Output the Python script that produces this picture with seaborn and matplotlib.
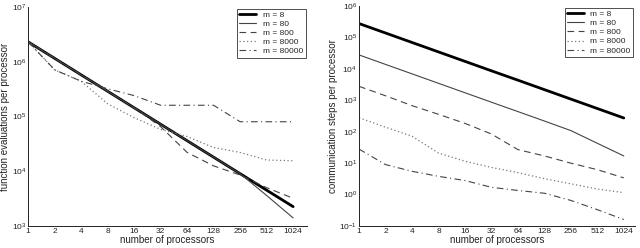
import numpy as np
import pandas as pd
import matplotlib
matplotlib.use('Agg')
import matplotlib.pyplot as plt
import matplotlib.ticker as mticker
import seaborn as sns

sns.set_theme(style='white')
plt.rcParams['font.family'] = ['Liberation Sans', 'DejaVu Sans']
plt.rcParams['mathtext.default'] = 'regular'
plt.rcParams['xtick.direction'] = 'in'
plt.rcParams['ytick.direction'] = 'in'

# ── data
procs = [1, 2, 4, 8, 16, 32, 64, 128, 256, 512, 1024]
labels = ['m = 8', 'm = 80', 'm = 800', 'm = 8000', 'm = 80000']

# function evaluations per processor
fe_m8     = [2.3e6, 1.15e6, 5.75e5, 2.88e5, 1.44e5, 7.2e4, 3.6e4, 1.8e4, 9.0e3, 4.5e3, 2.25e3]
fe_m80    = [2.3e6, 1.15e6, 5.75e5, 2.88e5, 1.44e5, 7.2e4, 3.6e4, 1.8e4, 9.0e3, 3.6e3, 1.4e3]
fe_m800   = [2.3e6, 1.15e6, 5.75e5, 2.88e5, 1.44e5, 6.5e4, 2.2e4, 1.25e4, 8.5e3, 5.0e3, 3.2e3]
fe_m8000  = [2.3e6, 7.1e5, 4.4e5, 1.7e5, 9.5e4, 5.8e4, 4.3e4, 2.7e4, 2.2e4, 1.6e4, 1.55e4]
fe_m80000 = [2.3e6, 7.1e5, 4.4e5, 3.2e5, 2.4e5, 1.6e5, 1.6e5, 1.6e5, 8.0e4, 8.0e4, 8.0e4]

# communication steps per processor
cs_m8     = [2.8e5, 1.4e5, 7.0e4, 3.5e4, 1.75e4, 8.75e3, 4.4e3, 2.2e3, 1.1e3, 550, 275]
cs_m80    = [2.8e4, 1.4e4, 7.0e3, 3.5e3, 1.75e3, 875, 440, 220, 109, 43, 17]
cs_m800   = [2.8e3, 1.4e3, 680, 360, 185, 85, 27, 17, 10, 6.2, 3.4]
cs_m8000  = [280, 140, 72, 21, 11.5, 7.3, 5.0, 3.2, 2.2, 1.5, 1.15]
cs_m80000 = [28, 9.0, 5.5, 3.8, 2.8, 1.7, 1.35, 1.1, 0.65, 0.33, 0.16]

STYLES = [
    dict(color='black', lw=2.0, ls='-'),
    dict(color='#444444', lw=0.8, ls='-'),
    dict(color='#444444', lw=0.8, ls=(0, (6, 4))),
    dict(color='#777777', lw=0.9, ls=(0, (1, 2))),
    dict(color='#444444', lw=0.8, ls=(0, (6, 3, 1, 3))),
]

fig = plt.figure(figsize=(6.4, 2.48), dpi=100)
ax1 = fig.add_axes([0.044, 0.089, 0.436, 0.883])
ax2 = fig.add_axes([0.561, 0.089, 0.431, 0.886])

panels = [
    (ax1, [fe_m8, fe_m80, fe_m800, fe_m8000, fe_m80000], (1e3, 1e7), 1480,
     'function evaluations per processor', -0.082),
    (ax2, [cs_m8, cs_m80, cs_m800, cs_m8000, cs_m80000], (1e-1, 1e6), 1370,
     'communication steps per processor', -0.095),
]

for ax, series, ylim, xmax, ylab, ylab_x in panels:
    for vals, lab, st in zip(series, labels, STYLES):
        sns.lineplot(x=procs, y=vals, ax=ax, label=lab, color=st['color'],
                     lw=st['lw'], linestyle=st['ls'])
    ax.set_xscale('log')
    ax.set_yscale('log')
    ax.set_xlim(1, xmax)
    ax.set_ylim(*ylim)
    ax.xaxis.set_major_locator(mticker.FixedLocator(procs))
    ax.xaxis.set_major_formatter(mticker.FixedFormatter([str(p) for p in procs]))
    ax.xaxis.set_minor_locator(mticker.LogLocator(base=10, subs=np.arange(1, 10), numticks=50))
    ax.xaxis.set_minor_formatter(mticker.NullFormatter())
    ax.yaxis.set_major_locator(mticker.LogLocator(base=10, numticks=20))
    ax.yaxis.set_major_formatter(mticker.LogFormatterMathtext())
    ax.yaxis.set_minor_locator(mticker.LogLocator(base=10, subs=np.arange(2, 10), numticks=50))
    ax.yaxis.set_minor_formatter(mticker.NullFormatter())
    ax.tick_params(which='major', length=3, width=0.6, labelsize=6, pad=1.5, colors='#222222')
    ax.tick_params(which='minor', length=1.5, width=0.5)
    for side in ['top', 'right']:
        ax.spines[side].set_visible(False)
    for side in ['left', 'bottom']:
        ax.spines[side].set_linewidth(0.7)
        ax.spines[side].set_color('#222222')
    ax.set_xlabel('number of processors', fontsize=7, color='#222222', va='center')
    ax.xaxis.set_label_coords(0.5, -0.062)
    ax.set_ylabel(ylab, fontsize=7, color='#222222', va='center')
    ax.yaxis.set_label_coords(ylab_x, 0.5)
    leg = ax.legend(loc='upper right', fontsize=6, frameon=True, fancybox=False,
                    handlelength=2.0, handletextpad=0.8, labelspacing=0.15,
                    borderpad=0.3, borderaxespad=0.2)
    leg.get_frame().set_edgecolor('#222222')
    leg.get_frame().set_linewidth(0.7)

plt.savefig('out.png', dpi=100)
plt.close()
